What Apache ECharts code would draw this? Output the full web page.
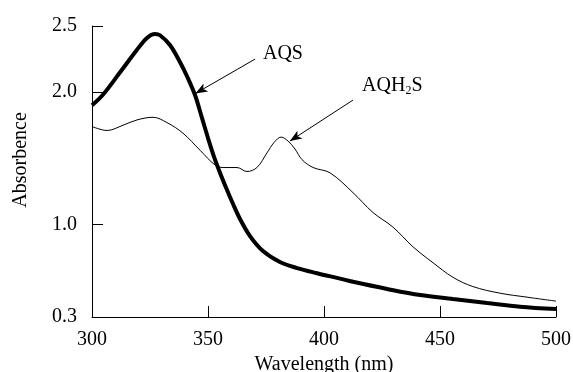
<!DOCTYPE html>
<html>
<head>
<meta charset="utf-8">
<script src="https://cdn.jsdelivr.net/npm/echarts@6/dist/echarts.min.js"></script>
<style>
  html, body { margin: 0; padding: 0; background: #fff; }
  #chart { width: 573px; height: 372px; }
</style>
</head>
<body>
<div id="chart"></div>
<script>
// AQS spectrum (thick line)
var aqsWave = [300, 304.7, 312.1, 319.4, 323.7, 327.2, 329.3, 333.6, 337.9, 340.9, 344.4, 347.4, 350, 352.6, 355.2, 358.2, 360.8, 363.8, 368.1, 373.7, 381, 388.4, 397, 406.9, 412.5, 427.2, 441.4, 455.6, 470.3, 484.5, 500];
var aqsAbs  = [1.90, 1.98, 2.15, 2.32, 2.41, 2.44, 2.43, 2.356, 2.228, 2.122, 1.978, 1.805, 1.653, 1.51, 1.389, 1.26, 1.154, 1.041, 0.912, 0.799, 0.716, 0.67, 0.631, 0.59, 0.566, 0.512, 0.466, 0.436, 0.406, 0.378, 0.36];

// AQH2S spectrum (thin line)
var aqh2sWave = [300, 306.5, 313.4, 319.4, 326.3, 332.3, 339.2, 346.6, 353, 356.5, 362.5, 366.8, 371.1, 375.4, 378.5, 381.5, 384.5, 387.5, 390.5, 395.3, 402.6, 412.5, 421.1, 429.7, 438.4, 447, 455.6, 464.2, 475.9, 487.5, 500];
var aqh2sAbs  = [1.74, 1.71, 1.75, 1.79, 1.81, 1.77, 1.69, 1.56, 1.45, 1.43, 1.43, 1.40, 1.43, 1.54, 1.62, 1.66, 1.63, 1.57, 1.49, 1.43, 1.39, 1.24, 1.09, 0.98, 0.83, 0.71, 0.60, 0.53, 0.48, 0.45, 0.42];

var yTicks = [0.3, 1.0, 2.0, 2.5];

// annotation arrows [from, to] and label anchors, in data units
var aqsArrow = [[370.3, 2.25], [344.6, 1.99]];
var aqsLabel = [373.7, 2.29];
var aqh2sArrow = [[412.5, 1.94], [385.3, 1.63]];
var aqh2sLabel = [416.4, 2.045];

var pairs = function(xs, ys){
  return xs.map(function(x, i){ return [x, ys[i]]; });
};

var FONT = "'Liberation Serif', 'Times New Roman', serif";

var arrowLine = function(a){
  return [{ coord: a[0] }, { coord: a[1] }];
};

var chart = echarts.init(document.getElementById('chart'));
chart.setOption({
  animation: false,
  grid: { left: 92, right: 17, top: 26, bottom: 55, outerBoundsMode: 'none' },
  xAxis: {
    type: 'value',
    min: 300, max: 500, interval: 50,
    name: 'Wavelength (nm)',
    nameLocation: 'middle',
    nameGap: 28,
    nameTextStyle: { fontFamily: FONT, fontSize: 20, color: '#000' },
    axisLine: { lineStyle: { color: '#000', width: 1 } },
    axisTick: { inside: true, length: 11, lineStyle: { color: '#000' } },
    axisLabel: { fontFamily: FONT, fontSize: 20, color: '#000', margin: 13 },
    splitLine: { show: false }
  },
  yAxis: {
    type: 'value',
    min: 0.3, max: 2.5,
    name: 'Absorbence',
    nameLocation: 'middle',
    nameGap: 61,
    nameTextStyle: { fontFamily: FONT, fontSize: 20, color: '#000', padding: [0, 0, 0, 23] },
    axisLine: { show: true, lineStyle: { color: '#000', width: 1 } },
    axisTick: { show: true, inside: true, length: 11, customValues: yTicks, lineStyle: { color: '#000' } },
    axisLabel: {
      fontFamily: FONT, fontSize: 20, color: '#000', margin: 15,
      customValues: yTicks,
      formatter: function(v){ return v.toFixed(1); }
    },
    splitLine: { show: false }
  },
  series: [
    {
      name: 'AQS',
      type: 'line',
      data: pairs(aqsWave, aqsAbs),
      smooth: 0.35,
      showSymbol: false,
      lineStyle: { color: '#000', width: 4 },
      itemStyle: { color: '#000' },
      markLine: {
        silent: true,
        symbol: ['none', 'arrow'],
        symbolSize: [7, 12],
        lineStyle: { color: '#000', width: 1, type: 'solid' },
        label: { show: false },
        data: [arrowLine(aqsArrow), arrowLine(aqh2sArrow)]
      },
      markPoint: {
        silent: true,
        symbol: 'circle',
        symbolSize: 0,
        label: {
          show: true, position: 'right', distance: 0,
          fontFamily: FONT, fontSize: 20, color: '#000', lineHeight: 22,
          formatter: function(p){ return p.name; },
          rich: {
            sub: { fontFamily: FONT, fontSize: 12, lineHeight: 12, verticalAlign: 'bottom', color: '#000' }
          }
        },
        data: [
          { name: 'AQS', coord: aqsLabel },
          { name: 'AQH{sub|2}S', coord: aqh2sLabel }
        ]
      }
    },
    {
      name: 'AQH2S',
      type: 'line',
      data: pairs(aqh2sWave, aqh2sAbs),
      smooth: 0.35,
      showSymbol: false,
      lineStyle: { color: '#000', width: 1 },
      itemStyle: { color: '#000' }
    }
  ]
});
</script>
</body>
</html>
